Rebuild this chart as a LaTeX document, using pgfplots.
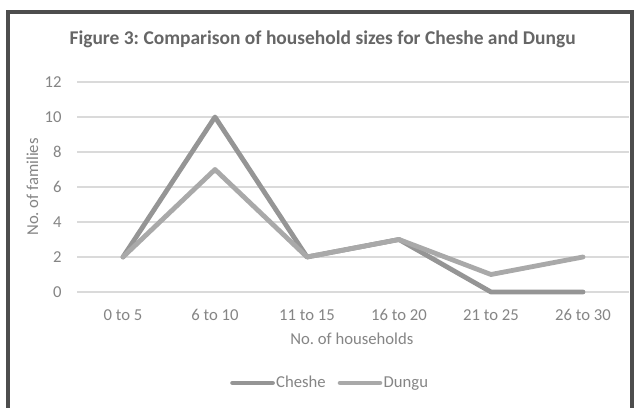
\documentclass[border=0pt]{standalone}
\usepackage{pgfplots}
\pgfplotsset{compat=1.18}
\usepackage{fontspec}
\setmainfont{Carlito}
\frenchspacing
\definecolor{cheshe}{HTML}{959595}
\definecolor{dungu}{HTML}{A9A9A9}
\definecolor{gridc}{HTML}{DADADA}
\definecolor{txt}{HTML}{858585}
\definecolor{ttl}{HTML}{666666}
\definecolor{frame}{HTML}{4D4D4D}
\begin{document}
\begin{tikzpicture}
\useasboundingbox (0,0) rectangle (478.5pt,305.25pt);
\fill[white] (0,0) rectangle (478.5pt,305.25pt);
\draw[frame, line width=2.4pt] (6pt,-5pt) -- (6pt,296.25pt) -- (474pt,296.25pt) -- (474pt,-5pt);
\begin{axis}[
  at={(57.75pt,86.25pt)}, anchor=south west,
  scale only axis, width=414pt, height=157.5pt,
  xmin=-0.5, xmax=5.5, ymin=0, ymax=12,
  xtick={0,1,2,3,4,5},
  xticklabels={0 to 5, 6 to 10, 11 to 15, 16 to 20, 21 to 25, 26 to 30},
  ytick={0,2,4,6,8,10,12},
  major tick length=0pt,
  axis line style={draw=none},
  ymajorgrids, grid style={gridc, line width=1.1pt},
  tick label style={font=\fontsize{12.5pt}{14pt}\selectfont, text=txt},
  /pgf/number format/assume math mode=true,
  xticklabel style={anchor=base, yshift=-21pt},
  yticklabel style={anchor=east, xshift=-8pt},
  xlabel={No. of households},
  ylabel={No. of families},
  label style={font=\fontsize{12.5pt}{14pt}\selectfont, text=txt},
  xlabel style={at={(axis description cs:0.498,-0.224)}, anchor=center},
  ylabel style={at={(axis description cs:-0.081,0.5)}, anchor=center, rotate=0},
  title={Figure 3: Comparison of household sizes for Cheshe and Dungu},
  title style={at={(axis description cs:0.445,1.165)}, anchor=center, font=\bfseries\fontsize{14.6pt}{16pt}\selectfont, text=ttl},
  legend columns=2,
  legend style={at={(axis description cs:0.458,-0.433)}, anchor=center, draw=none, fill=none,
    font=\fontsize{12.5pt}{14pt}\selectfont, text=txt,
    /tikz/every even column/.append style={column sep=8pt},
    nodes={inner xsep=1pt}},
  legend image code/.code={\draw[#1] (0cm,0cm) -- (1.05cm,0cm);},
  clip=false,
]
\addplot[cheshe, line width=3.6pt, line join=round, line cap=round] coordinates {(0,2) (1,10) (2,2) (3,3) (4,0) (5,0)};
\addlegendentry{Cheshe}
\addplot[dungu, line width=3.6pt, line join=round, line cap=round] coordinates {(0,2) (1,7) (2,2) (3,3) (4,1) (5,2)};
\addlegendentry{Dungu}
\end{axis}
\end{tikzpicture}
\end{document}
